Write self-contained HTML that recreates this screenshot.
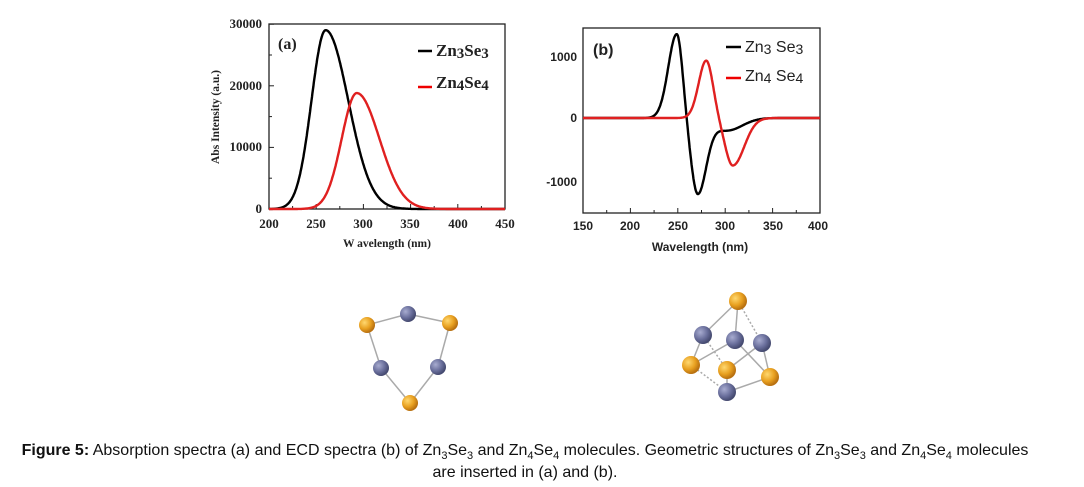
<!DOCTYPE html>
<html><head><meta charset="utf-8"><style>
body{margin:0;background:#fff;width:1084px;height:487px;overflow:hidden}
.cap{position:absolute;left:-17px;width:1084px;text-align:center;font-family:"Liberation Sans",sans-serif;font-size:16px;color:#111;white-space:nowrap}
sub{font-size:11px}
</style></head><body>
<svg id="s" width="1084" height="487" style="position:absolute;left:0;top:0">
<defs>
<radialGradient id="au" cx="35%" cy="35%" r="65%"><stop offset="0" stop-color="#ffd870"/><stop offset="0.6" stop-color="#e8a020"/><stop offset="1" stop-color="#b87010"/></radialGradient>
<radialGradient id="zn" cx="35%" cy="35%" r="65%"><stop offset="0" stop-color="#a8acd0"/><stop offset="0.6" stop-color="#6a6f9c"/><stop offset="1" stop-color="#454a70"/></radialGradient>
</defs>
<g font-family="Liberation Serif,serif" font-weight="bold" font-size="13" fill="#222">
<rect x="269" y="24" width="236" height="185" fill="none" stroke="#222" stroke-width="1.3"/>
<g id="ta"></g>
<text x="262" y="28" text-anchor="end">30000</text>
<text x="262" y="90" text-anchor="end">20000</text>
<text x="262" y="151" text-anchor="end">10000</text>
<text x="262" y="213" text-anchor="end">0</text>
<text x="269" y="228" text-anchor="middle">200</text><text x="316" y="228" text-anchor="middle">250</text><text x="363" y="228" text-anchor="middle">300</text><text x="410" y="228" text-anchor="middle">350</text><text x="458" y="228" text-anchor="middle">400</text><text x="505" y="228" text-anchor="middle">450</text>
<text x="387" y="247" text-anchor="middle" font-size="11.5">W avelength (nm)</text>
<text transform="translate(219,117) rotate(-90)" text-anchor="middle" font-size="11.5">Abs Intensity (a.u.)</text>
<text x="278" y="49" font-size="16">(a)</text>
<line x1="418" y1="51" x2="432" y2="51" stroke="#000" stroke-width="2.5"/>
<text x="436" y="56" font-size="17">Zn<tspan font-size="15" dy="2">3</tspan><tspan dy="-2">Se</tspan><tspan font-size="15" dy="2">3</tspan></text>
<line x1="418" y1="87" x2="432" y2="87" stroke="#e00" stroke-width="2.5"/>
<text x="436" y="88" font-size="17">Zn<tspan font-size="15" dy="2">4</tspan><tspan dy="-2">Se</tspan><tspan font-size="15" dy="2">4</tspan></text>
<path id="a1" fill="none" stroke="#000" stroke-width="2.4"/>
<path id="a2" fill="none" stroke="#e02020" stroke-width="2.4"/>
</g>
<g font-family="Liberation Sans,sans-serif" font-weight="bold" font-size="12" fill="#222">
<rect x="583" y="28" width="237" height="185" fill="none" stroke="#222" stroke-width="1.3"/>
<g id="tb"></g>
<text x="577" y="61" text-anchor="end">1000</text>
<text x="577" y="122" text-anchor="end">0</text>
<text x="577" y="186" text-anchor="end">-1000</text>
<text x="583" y="230" text-anchor="middle">150</text><text x="630" y="230" text-anchor="middle">200</text><text x="678" y="230" text-anchor="middle">250</text><text x="725" y="230" text-anchor="middle">300</text><text x="773" y="230" text-anchor="middle">350</text><text x="818" y="230" text-anchor="middle">400</text>
<text x="700" y="251" text-anchor="middle">Wavelength (nm)</text>
<text x="593" y="55" font-size="16">(b)</text>
<line x1="726" y1="47" x2="741" y2="47" stroke="#000" stroke-width="2.5"/>
<text x="745" y="52" font-size="16" font-weight="normal">Zn<tspan font-size="14" dy="2">3</tspan><tspan dy="-2"> Se</tspan><tspan font-size="14" dy="2">3</tspan></text>
<line x1="726" y1="78" x2="741" y2="78" stroke="#e00" stroke-width="2.5"/>
<text x="745" y="81" font-size="16" font-weight="normal">Zn<tspan font-size="14" dy="2">4</tspan><tspan dy="-2"> Se</tspan><tspan font-size="14" dy="2">4</tspan></text>
<path id="b1" fill="none" stroke="#000" stroke-width="2.4"/>
<path id="b2" fill="none" stroke="#e02020" stroke-width="2.4"/>
</g>
<g stroke="#aaa" stroke-width="1.5">
<line x1="367" y1="325" x2="408" y2="314"/><line x1="408" y1="314" x2="450" y2="323"/><line x1="367" y1="325" x2="381" y2="368"/><line x1="450" y1="323" x2="438" y2="367"/><line x1="381" y1="368" x2="410" y2="403"/><line x1="438" y1="367" x2="410" y2="403"/>
<line x1="738" y1="301" x2="703" y2="335"/><line x1="738" y1="301" x2="735" y2="340"/><line x1="738" y1="301" x2="762" y2="343" stroke-dasharray="2 2"/><line x1="703" y1="335" x2="691" y2="365"/><line x1="691" y1="365" x2="735" y2="340"/><line x1="762" y1="343" x2="770" y2="377"/><line x1="762" y1="343" x2="727" y2="370"/><line x1="727" y1="370" x2="727" y2="392"/><line x1="727" y1="392" x2="770" y2="377"/><line x1="691" y1="365" x2="727" y2="392" stroke-dasharray="2 2"/><line x1="735" y1="340" x2="770" y2="377"/><line x1="703" y1="335" x2="727" y2="370" stroke-dasharray="2 2"/>
</g>
<g>
<circle cx="367" cy="325" r="8" fill="url(#au)"/><circle cx="408" cy="314" r="8" fill="url(#zn)"/><circle cx="450" cy="323" r="8" fill="url(#au)"/><circle cx="381" cy="368" r="8" fill="url(#zn)"/><circle cx="438" cy="367" r="8" fill="url(#zn)"/><circle cx="410" cy="403" r="8" fill="url(#au)"/>
<circle cx="738" cy="301" r="9" fill="url(#au)"/><circle cx="703" cy="335" r="9" fill="url(#zn)"/><circle cx="735" cy="340" r="9" fill="url(#zn)"/><circle cx="762" cy="343" r="9" fill="url(#zn)"/><circle cx="691" cy="365" r="9" fill="url(#au)"/><circle cx="727" cy="370" r="9" fill="url(#au)"/><circle cx="770" cy="377" r="9" fill="url(#au)"/><circle cx="727" cy="392" r="9" fill="url(#zn)"/>
</g>
</svg>
<div class="cap" style="top:442px"><b>Figure 5:</b> Absorption spectra (a) and ECD spectra (b) of Zn<sub>3</sub>Se<sub>3</sub> and Zn<sub>4</sub>Se<sub>4</sub> molecules. Geometric structures of Zn<sub>3</sub>Se<sub>3</sub> and Zn<sub>4</sub>Se<sub>4</sub> molecules</div>
<div class="cap" style="top:464px">are inserted in (a) and (b).</div>
<script>
function g(x,m,sl,sr){var s=x<m?sl:sr;return Math.exp(-0.5*Math.pow((x-m)/s,2));}
function path(f,x0,x1,X,Y){var d="";for(var x=x0;x<=x1;x+=0.5){d+=(d?"L":"M")+X(x).toFixed(1)+","+Y(f(x)).toFixed(1);}return d;}
var Xa=function(x){return 269+(x-200)*236/250},Ya=function(v){return 209-v*185/30000};
document.getElementById("a1").setAttribute("d",path(function(x){return 29000*g(x,260,15,24)},200,450,Xa,Ya));
document.getElementById("a2").setAttribute("d",path(function(x){return 18800*g(x,293,16,24)},200,450,Xa,Ya));
var Xb=function(x){return 583+(x-150)*237/250},Yb=function(v){return 118-v*0.0625};
document.getElementById("b1").setAttribute("d",path(function(x){return 1350*g(x,249,9,6)-1200*g(x,271,7,9)-200*g(x,302,14,16)},150,400,Xb,Yb));
document.getElementById("b2").setAttribute("d",path(function(x){return 920*g(x,280,8,7)-760*g(x,308,8,12)},150,400,Xb,Yb));
var ta="",tb="";
for(var i=0;i<=10;i++){var x=269+i*23.6;ta+='<line x1="'+x+'" y1="209" x2="'+x+'" y2="'+(i%2?206:204)+'" stroke="#222"/>';}
for(var j=0;j<=6;j++){var y=209-j*30.8;ta+='<line x1="269" y1="'+y+'" x2="'+(j%2?272:274)+'" y2="'+y+'" stroke="#222"/>';}
for(var i=0;i<=10;i++){var x=583+i*23.7;tb+='<line x1="'+x+'" y1="213" x2="'+x+'" y2="'+(i%2?210:208)+'" stroke="#222"/>';}
document.getElementById("ta").innerHTML=ta;document.getElementById("tb").innerHTML=tb;
</script>
</body></html>
